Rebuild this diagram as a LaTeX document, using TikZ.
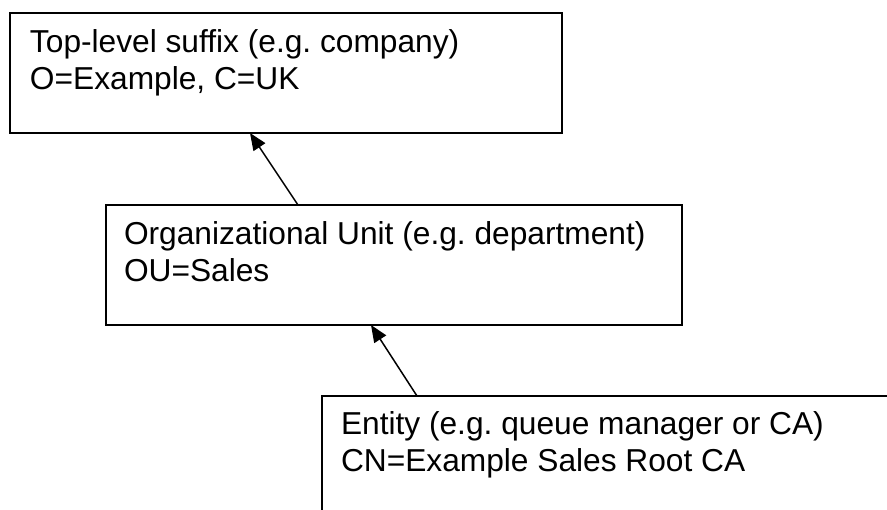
\documentclass[tikz,border=0pt]{standalone}
\usepackage{fontspec}
\setmainfont{Liberation Sans}
\usetikzlibrary{arrows.meta}
\frenchspacing
\begin{document}
\begin{tikzpicture}[x=1pt,y=-1pt,
  box/.style={draw=black, line width=2pt, rectangle, inner sep=0pt, outer sep=0pt, anchor=north west},
  label/.style={inner sep=0pt, outer sep=0pt, anchor=base west, align=left,
    font=\fontsize{31.7}{37}\selectfont},
  link/.style={line width=1.5pt, -{Triangle[length=17pt, width=14pt]}}]
  \useasboundingbox (0,0) rectangle (887,510);
  \clip (0,0) rectangle (887,510);
  % the three levels of the distinguished name
  \node[box, minimum width=552pt, minimum height=120pt] (top) at (10,13) {};
  \node[box, minimum width=576pt, minimum height=120pt] (mid) at (106,205) {};
  \node[box, minimum width=578pt, minimum height=130pt] (low) at (322,396) {};
  % text blocks: anchored at the baseline of their second line
  \node[label] (toptext) at ([xshift=20pt, yshift=-77pt]top.north west)
    {Top-level suffix (e.g. company)\\O=Example, C=UK};
  \node[label] (midtext) at ([xshift=18pt, yshift=-77pt]mid.north west)
    {Organizational Unit (e.g. department)\\OU=Sales};
  \node[label] (lowtext) at ([xshift=19pt, yshift=-76pt]low.north west)
    {Entity (e.g. queue manager or CA)\\CN=Example Sales Root CA};
  % each level points to its parent
  \coordinate (midtail) at ([xshift=-96pt]mid.north);
  \coordinate (tophead) at ([xshift=-36pt]top.south);
  \coordinate (lowtail) at ([xshift=-194pt]low.north);
  \coordinate (midhead) at ([xshift=-23pt]mid.south);
  \draw[link] (midtail) -- (tophead);
  \draw[link] (lowtail) -- (midhead);
\end{tikzpicture}
\end{document}
